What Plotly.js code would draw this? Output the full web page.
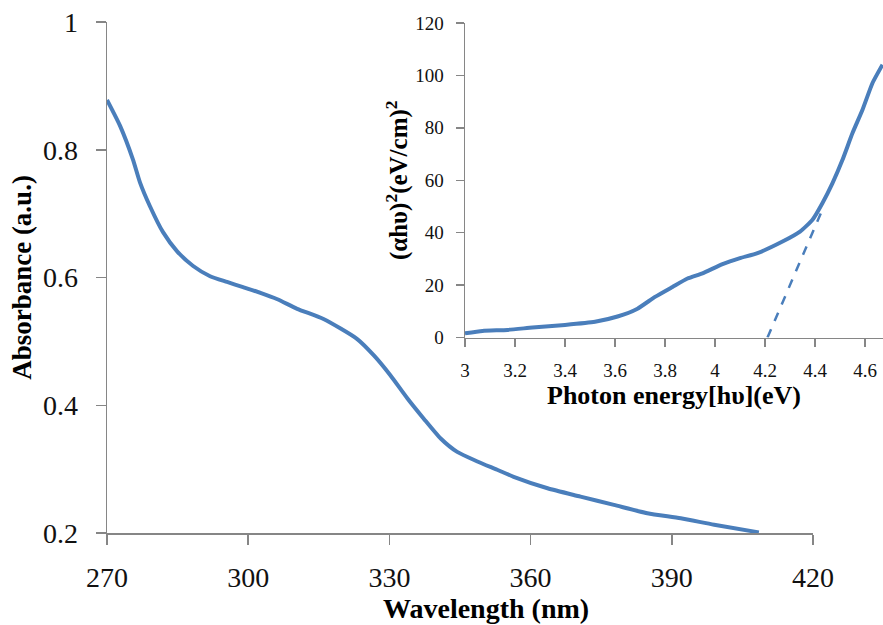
<!DOCTYPE html>
<html>
<head>
<meta charset="utf-8">
<script src="https://cdn.plot.ly/plotly-3.0.1.min.js"></script>
<style>
  html, body { margin: 0; padding: 0; background: #fff; }
  #chart { width: 883px; height: 625px; }
</style>
</head>
<body>
<div id="chart"></div>
<script>
// UV-Vis absorbance spectrum
const wavelength = [270, 272.8, 275.5, 277, 279.1, 281.9, 284.9, 288.3, 291.9, 295.5, 298.9,
  302.6, 306.2, 310.4, 316, 323.1, 326.7, 330.2, 333.8, 337.3, 340.9, 344.4, 348.7,
  352.9, 356.4, 363.6, 370.6, 377.7, 384.8, 391.9, 399, 408.5];
const absorbance = [0.878, 0.837, 0.785, 0.749, 0.712, 0.671, 0.641, 0.618, 0.602, 0.593, 0.585,
  0.576, 0.566, 0.551, 0.535, 0.504, 0.478, 0.447, 0.411, 0.379, 0.348, 0.327, 0.312,
  0.299, 0.288, 0.270, 0.257, 0.244, 0.231, 0.223, 0.213, 0.201];

// Tauc plot (inset)
const photonEnergy = [3.0, 3.07, 3.17, 3.27, 3.40, 3.52, 3.61, 3.69, 3.76, 3.83, 3.89, 3.95,
  4.03, 4.10, 4.17, 4.27, 4.34, 4.39, 4.43, 4.47, 4.51, 4.55, 4.59, 4.63, 4.67];
const taucValue = [1.6, 2.5, 2.9, 3.8, 4.8, 6.0, 8.0, 11.0, 15.5, 19.3, 22.5, 24.5,
  28.0, 30.3, 32.2, 36.6, 40.4, 44.9, 51.3, 58.9, 67.8, 78.0, 86.9, 97.1, 104.1];

// Linear extrapolation of the absorption edge to the energy axis
const tangentEnergy = [4.21, 4.435];
const tangentValue = [0, 50];

const blue = '#4a7ebb';
const axisGrey = '#868686';
const serif = 'Liberation Serif';

const traces = [
  {
    x: wavelength, y: absorbance, type: 'scatter', mode: 'lines',
    line: { color: blue, width: 4, shape: 'spline', smoothing: 0.6 },
    xaxis: 'x', yaxis: 'y', hoverinfo: 'skip'
  },
  {
    x: photonEnergy, y: taucValue, type: 'scatter', mode: 'lines',
    line: { color: blue, width: 4, shape: 'spline', smoothing: 0.5 },
    xaxis: 'x2', yaxis: 'y2', hoverinfo: 'skip'
  },
  {
    x: tangentEnergy, y: tangentValue, type: 'scatter', mode: 'lines',
    line: { color: blue, width: 2.5, dash: 'dash' },
    xaxis: 'x2', yaxis: 'y2', hoverinfo: 'skip'
  }
];

const commonAxis = {
  showgrid: false, zeroline: false, showline: true,
  linecolor: axisGrey, linewidth: 1.5,
  ticks: 'outside', tickcolor: axisGrey, tickwidth: 1.5,
  tickmode: 'linear'
};

const layout = {
  width: 883, height: 625,
  margin: { l: 0, r: 0, t: 0, b: 0 },
  paper_bgcolor: '#fff', plot_bgcolor: 'rgba(0,0,0,0)',
  showlegend: false,
  xaxis: Object.assign({}, commonAxis, {
    domain: [107 / 883, 813 / 883], range: [270, 420],
    tick0: 270, dtick: 30, ticklen: 10, ticklabelstandoff: 9,
    tickfont: { size: 28, family: serif, color: '#111' },
    anchor: 'y'
  }),
  yaxis: Object.assign({}, commonAxis, {
    domain: [(625 - 533) / 625, (625 - 22) / 625], range: [0.2, 1],
    tick0: 0.2, dtick: 0.2, ticklen: 10, ticklabelstandoff: 12,
    tickfont: { size: 28, family: serif, color: '#111' },
    title: { text: 'Absorbance (a.u.)', standoff: 3,
      font: { size: 27, family: serif, weight: 'bold', color: '#000' } },
    anchor: 'x'
  }),
  xaxis2: Object.assign({}, commonAxis, {
    domain: [465 / 883, 1], range: [3, 4.672],
    tick0: 3, dtick: 0.2, ticklen: 8, ticklabelstandoff: 7,
    tickfont: { size: 19, family: serif, color: '#111' },
    title: { text: 'Photon energy[hυ](eV)', standoff: 4,
      font: { size: 26, family: serif, weight: 'bold', color: '#000' } },
    anchor: 'y2'
  }),
  yaxis2: Object.assign({}, commonAxis, {
    domain: [(625 - 337.5) / 625, (625 - 23) / 625], range: [0, 120],
    tick0: 0, dtick: 20, ticklen: 8, ticklabelstandoff: 8,
    tickfont: { size: 19, family: serif, color: '#111' },
    title: { text: '(αhυ)<sup>2</sup>(eV/cm)<sup>2</sup>', standoff: 0,
      font: { size: 25, family: serif, weight: 'bold', color: '#000' } },
    anchor: 'x2'
  }),
  // main x-axis title, set a little right of the axis centre
  annotations: [{
    text: 'Wavelength (nm)', xref: 'paper', yref: 'paper',
    x: 486 / 883, y: (625 - 608) / 625, xanchor: 'center', yanchor: 'middle',
    showarrow: false,
    font: { size: 28, family: serif, weight: 'bold', color: '#000' }
  }]
};

Plotly.newPlot('chart', traces, layout, { staticPlot: true, displayModeBar: false });
</script>
</body>
</html>
